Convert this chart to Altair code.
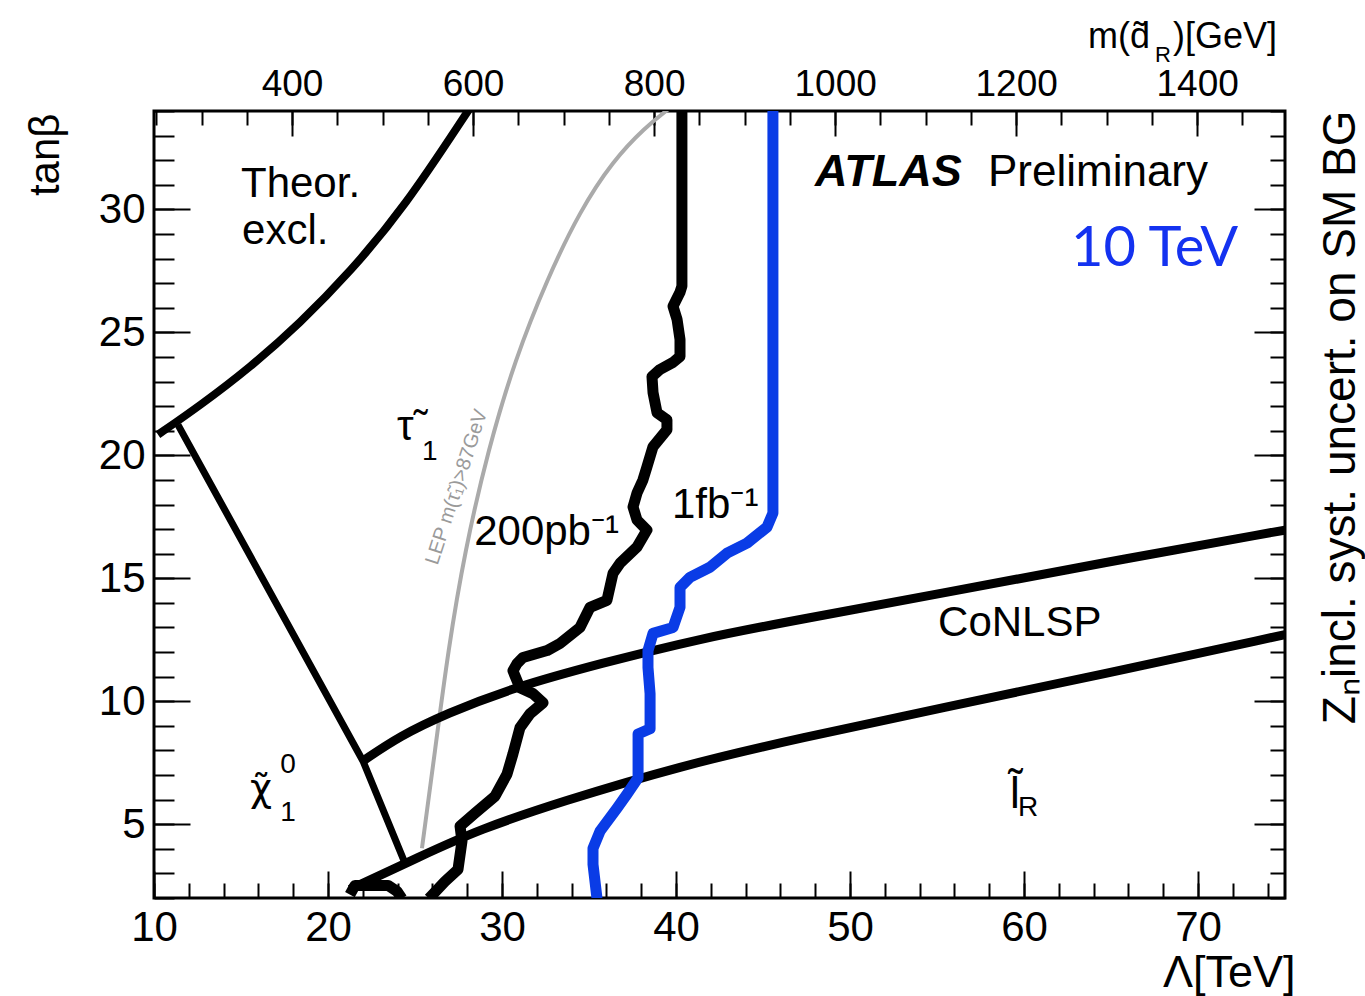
import altair as alt
import pandas as pd

FONT = "Liberation Sans"
W, H = 1131, 787

# ---------------- axes ----------------
L_DOMAIN = [10, 75]          # Lambda [TeV]
TB_DOMAIN = [2, 34]          # tan(beta)
M_DOMAIN = [247.5, 1497]     # m(d_R) [GeV] (top axis)

L_MAJOR = [10, 20, 30, 40, 50, 60, 70]
L_MINOR = list(range(10, 76, 2))
TB_MAJOR = [5, 10, 15, 20, 25, 30]
TB_MINOR = list(range(2, 35))
M_MAJOR = [400, 600, 800, 1000, 1200, 1400]
M_MINOR = list(range(250, 1500, 50))

# ---------------- curves (Lambda [TeV], tan beta) ----------------
theor_upper_L = [10.23, 12.64, 15.52, 18.39, 21.26, 24.37, 28.10]
theor_upper_tb = [20.84, 22.02, 23.57, 25.37, 27.45, 30.06, 34.06]

theor_lower_L = [11.38, 22.01, 24.43]
theor_lower_tb = [21.24, 7.57, 3.41]

conlsp_L = [22.01, 24.14, 26.78, 30.63, 35.63, 41.38, 47.13, 55.29, 64.37, 75.0]
conlsp_tb = [7.57, 8.59, 9.49, 10.55, 11.53, 12.55, 13.33, 14.39, 15.61, 16.96]

slepton_L = [21.26, 25.29, 28.74, 33.33, 40.23, 47.13, 55.29, 64.37, 75.0]
slepton_tb = [2.35, 3.69, 4.80, 5.90, 7.37, 8.51, 9.73, 11.08, 12.71]

lep_L = [25.40, 26.15, 26.90, 27.87, 29.20, 30.75, 32.59, 34.48, 36.38, 38.22, 39.54]
lep_tb = [4.02, 7.98, 12.06, 16.14, 20.22, 23.90, 27.16, 29.94, 31.98, 33.33, 34.06]

pb200_L = [25.80, 26.72, 27.47, 27.70, 27.59, 28.45, 29.60, 30.29, 30.63, 31.03, 31.61,
           32.36, 31.78, 31.03, 30.63, 30.86, 31.21, 32.59, 33.33, 34.48, 35.06, 36.03,
           36.38, 36.78, 37.76, 38.33, 37.76, 37.53, 37.76, 38.10, 38.33, 38.68, 39.48,
           39.48, 38.91, 38.68, 38.62, 39.08, 39.83, 40.23, 40.23, 40.06, 39.83, 40.23,
           40.34, 40.34]
pb200_tb = [1.98, 2.67, 3.16, 4.31, 4.92, 5.45, 6.14, 7.04, 7.86, 8.92, 9.49,
            9.94, 10.31, 10.55, 11.24, 11.53, 11.78, 12.06, 12.35, 13.00, 13.82, 14.10,
            15.20, 15.61, 16.27, 16.96, 17.37, 17.90, 18.47, 19.00, 19.53, 20.35, 21.04,
            21.45, 21.73, 22.55, 23.20, 23.49, 23.78, 24.02, 24.71, 25.53, 26.06, 26.63,
            26.88, 34.06]

pb200_tail_L = [21.26, 21.55, 23.45, 23.97, 24.25]
pb200_tail_tb = [2.14, 2.51, 2.51, 2.27, 1.98]

fb1_L = [35.46, 35.23, 35.23, 35.63, 36.61, 37.18, 37.82, 37.82, 38.51, 38.51, 38.39,
         38.39, 38.68, 39.83, 40.23, 40.23, 40.80, 41.95, 42.93, 44.08, 45.23, 45.57, 45.57]
fb1_tb = [1.98, 3.37, 4.02, 4.71, 5.65, 6.22, 6.88, 8.67, 8.88, 10.31, 11.37,
          12.06, 12.76, 13.00, 13.82, 14.63, 15.04, 15.45, 16.02, 16.43, 17.08, 17.65, 34.06]

# ---------------- in-plot labels (text, Lambda, tan beta, size) ----------------
labels_plain = [
    ("Theor.", 15.00, 30.51, 42),
    ("excl.", 15.06, 28.59, 42),
    ("Preliminary", 57.93, 30.96, 44),
    ("200pb⁻¹", 28.40, 16.35, 42),
    ("1fb⁻¹", 39.77, 17.45, 42),
    ("CoNLSP", 55.06, 12.67, 42),
    ("τ̃", 23.97, 20.63, 42),
    ("1", 25.40, 19.82, 28),
    ("0", 17.25, 7.10, 28),
    ("1", 17.25, 5.12, 28),
    ("l̃", 59.20, 5.65, 44),
    ("R", 59.66, 5.33, 28),
]

BLUE_LINE = "#0a3ce6"
BLUE_TEXT = "#1432f0"
GRAY = "#aaaaaa"


def xs():
    return alt.Scale(domain=L_DOMAIN, nice=False, zero=False)


def ys():
    return alt.Scale(domain=TB_DOMAIN, nice=False, zero=False)


def curve(Ls, tbs, color, width, interp="linear"):
    df = pd.DataFrame({"L": Ls, "tb": tbs, "i": list(range(len(Ls)))})
    return alt.Chart(df).mark_line(
        color=color, strokeWidth=width, clip=True, strokeJoin="round", strokeCap="butt",
        interpolate=interp,
    ).encode(
        x=alt.X("L:Q", scale=xs(), axis=None),
        y=alt.Y("tb:Q", scale=ys(), axis=None),
        order=alt.Order("i:Q"),
    )


def label(txt, L, tb, size, color="black", font=FONT, align="left",
          baseline="alphabetic", angle=0, weight="normal", style="normal"):
    df = pd.DataFrame({"L": [L], "tb": [tb], "t": [txt]})
    return alt.Chart(df).mark_text(
        align=align, baseline=baseline, fontSize=size, font=font, color=color,
        angle=angle, fontWeight=weight, fontStyle=style
    ).encode(
        x=alt.X("L:Q", scale=xs(), axis=None),
        y=alt.Y("tb:Q", scale=ys(), axis=None),
        text="t:N",
    )


def pix_text(txt, x, y, size, align="left"):
    df = pd.DataFrame({"t": [txt]})
    return alt.Chart(df).mark_text(
        align=align, baseline="alphabetic", fontSize=size, font=FONT, color="black"
    ).encode(x=alt.value(x), y=alt.value(y), text="t:N")


AX = dict(domain=False, grid=False, tickColor="black", tickWidth=2,
          labelColor="black", labelFont=FONT, labelFlush=False, labelOverlap=False,
          titleFont=FONT, titleColor="black", titleFontWeight="normal", format="d")


def axis_layer(values, channel, scale, axis):
    df = pd.DataFrame({"v": values})
    if channel == "x":
        enc = {"x": alt.X("v:Q", scale=scale, axis=axis)}
    else:
        enc = {"y": alt.Y("v:Q", scale=scale, axis=axis)}
    return alt.Chart(df).mark_point(opacity=0).encode(**enc)


layers = [
    curve(lep_L, lep_tb, GRAY, 4, "basis"),
    curve(theor_upper_L, theor_upper_tb, "black", 8, "basis"),
    curve(theor_lower_L, theor_lower_tb, "black", 7),
    curve(conlsp_L, conlsp_tb, "black", 9, "basis"),
    curve(slepton_L, slepton_tb, "black", 9, "basis"),
    curve(pb200_L, pb200_tb, "black", 11),
    curve(pb200_tail_L, pb200_tail_tb, "black", 11),
    curve(fb1_L, fb1_tb, BLUE_LINE, 11),
]

for (t, L, tb, s) in labels_plain:
    layers.append(label(t, L, tb, s))
layers.append(label("χ̃", 15.52, 5.94, 38, font="DejaVu Sans"))
layers.append(label("ATLAS", 47.99, 30.96, 45, weight="bold", style="italic"))
layers.append(label("10 TeV", 62.70, 27.69, 56, color=BLUE_TEXT, font="Lato"))
layers.append(label("LEP m(τ̃₁)>87GeV", 27.40, 18.71, 20, color="#9a9a9a",
                    align="center", baseline="middle", angle=288))

# top axis title m(d~_R)[GeV]
layers.append(pix_text("m(d̃", 934, -63, 36))
layers.append(pix_text("R", 1001, -49, 22))
layers.append(pix_text(")[GeV]", 1019, -63, 36))

# axes (ticks pointing inward via negative offset)
layers += [
    axis_layer(L_MAJOR, "x", xs(), alt.Axis(
        orient="bottom", values=L_MAJOR, tickSize=27, offset=-27, labelFontSize=42,
        labelPadding=9, title="Λ[TeV]", titleFontSize=45, titleX=1141, titleY=115,
        titleAlign="right", titleBaseline="alphabetic", **AX)),
    axis_layer(L_MINOR, "x", xs(), alt.Axis(
        orient="bottom", values=L_MINOR, tickSize=15, offset=-15, labels=False,
        title=None, **AX)),
    axis_layer(TB_MAJOR, "y", ys(), alt.Axis(
        orient="left", values=TB_MAJOR, tickSize=36, offset=-36, labelFontSize=42,
        labelPadding=9, title="tanβ", titleFontSize=42, titleAngle=270,
        titleX=-132, titleY=2, titleAlign="right", titleBaseline="alphabetic", **AX)),
    axis_layer(TB_MINOR, "y", ys(), alt.Axis(
        orient="left", values=TB_MINOR, tickSize=20, offset=-20, labels=False,
        title=None, **AX)),
    axis_layer(TB_MAJOR, "y", ys(), alt.Axis(
        orient="right", values=TB_MAJOR, tickSize=31, offset=-31, labels=False,
        title="Zₙincl. syst. uncert. on SM BG", titleFontSize=46, titleAngle=270,
        titleX=100, titleY=-1, titleAlign="right", titleBaseline="alphabetic", **AX)),
    axis_layer(TB_MINOR, "y", ys(), alt.Axis(
        orient="right", values=TB_MINOR, tickSize=15, offset=-15, labels=False,
        title=None, **AX)),
    axis_layer(M_MAJOR, "x", alt.Scale(domain=M_DOMAIN, nice=False, zero=False), alt.Axis(
        orient="top", values=M_MAJOR, tickSize=25, offset=-25, labelFontSize=37,
        labelPadding=8, title=None, **AX)),
    axis_layer(M_MINOR, "x", alt.Scale(domain=M_DOMAIN, nice=False, zero=False), alt.Axis(
        orient="top", values=M_MINOR, tickSize=14, offset=-14, labels=False,
        title=None, **AX)),
]

chart = alt.layer(*layers).resolve_scale(
    x="independent", y="independent"
).properties(
    width=W, height=H,
    autosize=alt.AutoSizeParams(type="none"),
    padding={"left": 154, "top": 111, "right": 80, "bottom": 98},
).configure_view(stroke="black", strokeWidth=3)

chart.save("out.html", embed_options={"renderer": "svg", "actions": False})
